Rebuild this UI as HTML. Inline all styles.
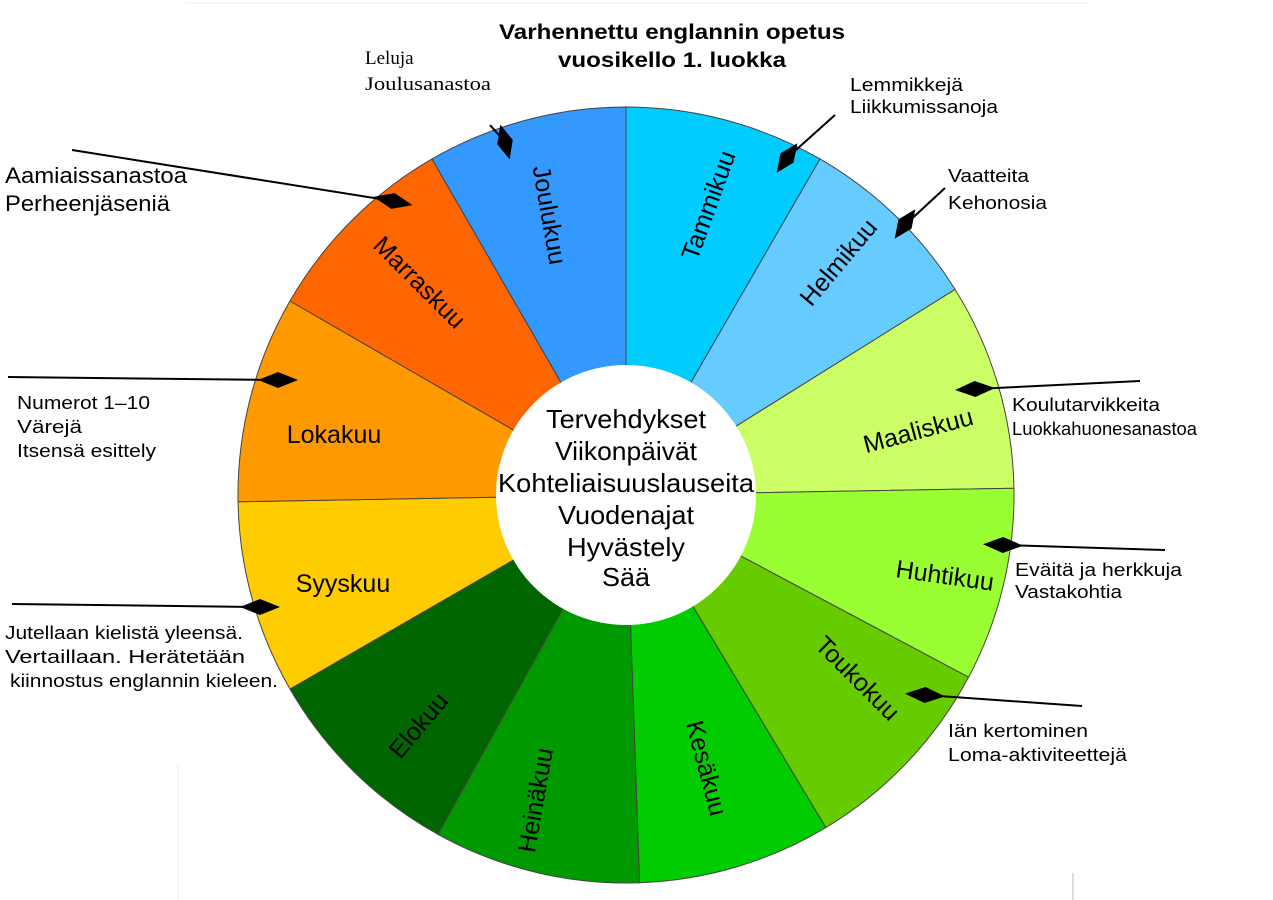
<!DOCTYPE html>
<html><head><meta charset="utf-8"><style>
body{margin:0;background:#fff;width:1273px;height:900px;overflow:hidden}
svg{display:block}
text{font-family:"Liberation Sans",sans-serif;fill:#000}
</style></head><body>
<svg width="1273" height="900" viewBox="0 0 1273 900" xmlns="http://www.w3.org/2000/svg">
<line x1="185" y1="3" x2="1090" y2="3" stroke="#eee"/>
<line x1="178" y1="765" x2="178" y2="900" stroke="#eee"/>
<line x1="1073" y1="873" x2="1073" y2="900" stroke="#bbb"/>
<g id="wheel" stroke="#444" stroke-width="1"></g>
<circle cx="626" cy="495" r="130" fill="#fff"/>
<text x="672" y="39" font-size="21" font-weight="bold" text-anchor="middle" textLength="346" lengthAdjust="spacingAndGlyphs">Varhennettu englannin opetus</text>
<text x="672" y="67" font-size="21" font-weight="bold" text-anchor="middle" textLength="228" lengthAdjust="spacingAndGlyphs">vuosikello 1. luokka</text>
<g font-size="26" text-anchor="middle">
<text x="626" y="428" textLength="160" lengthAdjust="spacingAndGlyphs">Tervehdykset</text>
<text x="626" y="460" textLength="142" lengthAdjust="spacingAndGlyphs">Viikonpäivät</text>
<text x="626" y="492" textLength="256" lengthAdjust="spacingAndGlyphs">Kohteliaisuuslauseita</text>
<text x="626" y="524" textLength="136" lengthAdjust="spacingAndGlyphs">Vuodenajat</text>
<text x="626" y="556" textLength="118" lengthAdjust="spacingAndGlyphs">Hyvästely</text>
<text x="626" y="586" textLength="48" lengthAdjust="spacingAndGlyphs">Sää</text>
</g>
<g stroke="#000" stroke-width="2">
<line x1="490" y1="125" x2="505" y2="142"/>
<line x1="835" y1="115" x2="787" y2="158"/>
<line x1="945" y1="188" x2="905" y2="225"/>
<line x1="72" y1="150" x2="393" y2="201"/>
<line x1="8" y1="377" x2="278" y2="380"/>
<line x1="12" y1="604" x2="260" y2="607"/>
<line x1="1140" y1="381" x2="975" y2="389"/>
<line x1="1165" y1="550" x2="1003" y2="545"/>
<line x1="1082" y1="706" x2="925" y2="695"/>
</g>
<g fill="#000">
<polygon points="-18,0 0,-8 18,0 0,8" transform="translate(505,142) rotate(75)"/>
<polygon points="-18,0 0,-8 18,0 0,8" transform="translate(787,158) rotate(125)"/>
<polygon points="-18,0 0,-8 18,0 0,8" transform="translate(905,224) rotate(125)"/>
<polygon points="-20,0 0,-8 20,0 0,8" transform="translate(393,201) rotate(12)"/>
<polygon points="-20,0 0,-8 20,0 0,8" transform="translate(278,380) rotate(0)"/>
<polygon points="-20,0 0,-8 20,0 0,8" transform="translate(260,607) rotate(0)"/>
<polygon points="-20,0 0,-8 20,0 0,8" transform="translate(975,389) rotate(-3)"/>
<polygon points="-20,0 0,-8 20,0 0,8" transform="translate(1003,545) rotate(2)"/>
<polygon points="-20,0 0,-8 20,0 0,8" transform="translate(925,695) rotate(4)"/>
</g>
<text x="365" y="64" font-size="19" style="font-family:'Liberation Serif',serif">Leluja</text>
<text x="365" y="90" font-size="19" style="font-family:'Liberation Serif',serif" textLength="126" lengthAdjust="spacingAndGlyphs">Joulusanastoa</text>
<g font-size="18">
<text x="850" y="91" textLength="113" lengthAdjust="spacingAndGlyphs">Lemmikkejä</text><text x="850" y="113" textLength="148" lengthAdjust="spacingAndGlyphs">Liikkumissanoja</text>
<text x="948" y="182" textLength="81" lengthAdjust="spacingAndGlyphs">Vaatteita</text><text x="948" y="209" textLength="99" lengthAdjust="spacingAndGlyphs">Kehonosia</text>
<text x="17" y="409" textLength="133" lengthAdjust="spacingAndGlyphs">Numerot 1–10</text><text x="17" y="433" textLength="65" lengthAdjust="spacingAndGlyphs">Värejä</text><text x="17" y="457" textLength="139" lengthAdjust="spacingAndGlyphs">Itsensä esittely</text>
<text x="5" y="639" textLength="238" lengthAdjust="spacingAndGlyphs">Jutellaan kielistä yleensä.</text><text x="5" y="663" textLength="240" lengthAdjust="spacingAndGlyphs">Vertaillaan. Herätetään</text><text x="10" y="687" textLength="268" lengthAdjust="spacingAndGlyphs">kiinnostus englannin kieleen.</text>
<text x="1012" y="411" textLength="148" lengthAdjust="spacingAndGlyphs">Koulutarvikkeita</text><text x="1012" y="435" textLength="185" lengthAdjust="spacingAndGlyphs">Luokkahuonesanastoa</text>
<text x="1015" y="576" textLength="167" lengthAdjust="spacingAndGlyphs">Eväitä ja herkkuja</text><text x="1015" y="598" textLength="107" lengthAdjust="spacingAndGlyphs">Vastakohtia</text>
<text x="948" y="737" textLength="140" lengthAdjust="spacingAndGlyphs">Iän kertominen</text><text x="948" y="761" textLength="179" lengthAdjust="spacingAndGlyphs">Loma-aktiviteettejä</text>
</g>
<g font-size="22">
<text x="5" y="183" textLength="182" lengthAdjust="spacingAndGlyphs">Aamiaissanastoa</text><text x="5" y="211" textLength="165" lengthAdjust="spacingAndGlyphs">Perheenjäseniä</text>
</g>
<g id="labels" font-size="25" text-anchor="middle"></g>
</svg>
<script>
const cx=626,cy=495,R=388;
const b=[0,30,58,89,118,149,178,209,240,269,300,330,360];
const cols=["#00ccff","#66ccff","#ccff66","#99ff33","#66cc00","#00cc00","#009900","#006600","#ffcc00","#ff9900","#ff6600","#3399ff"];
const names=["Tammikuu","Helmikuu","Maaliskuu","Huhtikuu","Toukokuu","Kesäkuu","Heinäkuu","Elokuu","Syyskuu","Lokakuu","Marraskuu","Joulukuu"];
const pos=[[708,205,-70],[838,262,-50],[918,430,-15],[945,575,8],[858,678,45],[707,768,75],[535,800,-80],[418,725,-50],[343,583,0],[334,434,0],[420,282,45],[550,215,80]];
const ns="http://www.w3.org/2000/svg";
const w=document.getElementById("wheel"),l=document.getElementById("labels");
function pt(a,r){const t=a*Math.PI/180;return [cx+r*Math.sin(t),cy-r*Math.cos(t)];}
for(let i=0;i<12;i++){
 const a0=b[i],a1=b[i+1],p0=pt(a0,R),p1=pt(a1,R);
 const p=document.createElementNS(ns,"path");
 p.setAttribute("d",`M${cx},${cy}L${p0[0]},${p0[1]}A${R},${R} 0 0 1 ${p1[0]},${p1[1]}Z`);
 p.setAttribute("fill",cols[i]);w.appendChild(p);
 const [x,y,rot]=pos[i];
 const t=document.createElementNS(ns,"text");
 t.setAttribute("x",x);t.setAttribute("y",y);t.setAttribute("dy","9");
 t.setAttribute("transform",`rotate(${rot} ${x} ${y})`);
 t.textContent=names[i];l.appendChild(t);
}
</script>
</body></html>
